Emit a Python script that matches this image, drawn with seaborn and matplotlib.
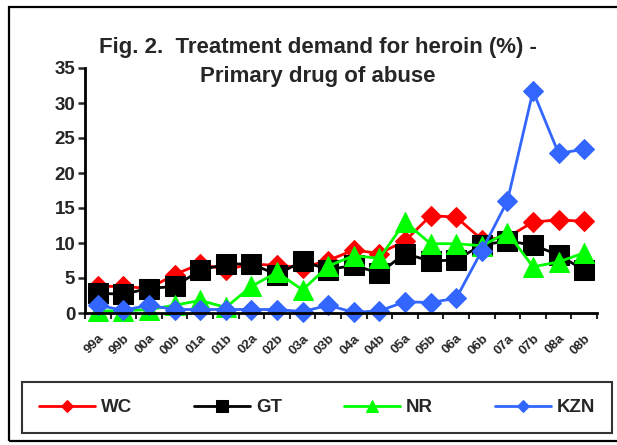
import matplotlib
matplotlib.use("Agg")
import matplotlib.pyplot as plt
import pandas as pd
import seaborn as sns
from matplotlib.patches import Rectangle
from matplotlib.ticker import FixedLocator

# ---------------------------------------------------------
#   DATA
# ---------------------------------------------------------
periods = ["99a", "99b", "00a", "00b", "01a", "01b", "02a", "02b", "03a", "03b",
           "04a", "04b", "05a", "05b", "06a", "06b", "07a", "07b", "08a", "08b"]

wc = [3.8, 3.8, 3.5, 5.5, 7.0, 6.2, 7.0, 6.8, 6.5, 7.5,
      9.0, 8.5, 10.3, 13.9, 13.7, 10.5, 10.8, 13.0, 13.3, 13.1]
gt = [2.8, 2.7, 3.5, 3.8, 6.1, 7.0, 7.0, 5.5, 7.4, 6.2,
      6.8, 5.7, 8.5, 7.4, 7.6, 9.7, 10.3, 9.7, 8.3, 6.1]
nr = [0.3, 0.3, 0.5, 1.1, 1.8, 0.8, 3.8, 5.8, 3.3, 6.7,
      8.2, 7.8, 13.0, 9.9, 9.9, 9.6, 11.5, 6.6, 7.3, 8.6]
kzn = [1.1, 0.4, 1.1, 0.5, 0.5, 0.5, 0.5, 0.5, 0.2, 1.1,
       0.1, 0.3, 1.6, 1.5, 2.1, 8.9, 16.0, 31.7, 22.8, 23.4]

series_names = ["WC", "GT", "NR", "KZN"]
colors = ["#FF0000", "#000000", "#00FF00", "#3366FF"]
markers = ["D", "s", "^", "D"]
msizes = [10.5, 15, 14.5, 10.5]

df = pd.DataFrame({"period": periods, "WC": wc, "GT": gt, "NR": nr, "KZN": kzn})
long_df = df.melt(id_vars="period", var_name="region", value_name="pct")

# ---------------------------------------------------------
#   PLOT
# ---------------------------------------------------------
sns.set_style("white")
plt.rcParams["font.family"] = ["Liberation Sans", "DejaVu Sans"]
plt.rcParams["font.weight"] = "bold"

fig = plt.figure(figsize=(6.17, 4.45), dpi=100)
ax = fig.add_axes([85 / 617, 1 - 313 / 445, 512 / 617, 245 / 445])

# one call per series so each keeps its own marker size
for name, col, mk, ms in zip(series_names, colors, markers, msizes):
    sub = long_df[long_df["region"] == name]
    sns.lineplot(data=sub, x="period", y="pct", ax=ax, color=col,
                 marker=mk, markersize=ms, markeredgecolor=col,
                 linewidth=2, label=name, sort=False, clip_on=False)

ax.set_xlim(-0.5, len(periods) - 0.5)
ax.set_ylim(0, 35)
ax.set_yticks(range(0, 36, 5))
ax.set_xlabel("")
ax.set_ylabel("")

for side in ["top", "right"]:
    ax.spines[side].set_visible(False)
for side in ["left", "bottom"]:
    ax.spines[side].set_linewidth(2)
    ax.spines[side].set_color("black")

ax.tick_params(axis="y", which="major", direction="out", length=5, width=1.8,
               labelsize=13.5, pad=2, left=True)
# tick marks sit between categories, labels at the category centres
ax.xaxis.set_minor_locator(FixedLocator([i - 0.5 for i in range(len(periods) + 1)]))
ax.tick_params(axis="x", which="minor", direction="out", length=4, width=1.5, bottom=True)
ax.tick_params(axis="x", which="major", length=0, pad=14, labelsize=9.5)
for lab in ax.get_xticklabels():
    lab.set_rotation(45)
    lab.set_ha("right")
    lab.set_rotation_mode("anchor")
    lab.set_fontweight("bold")
for lab in ax.get_yticklabels():
    lab.set_fontweight("bold")

ax.get_legend().remove()

fig.text(0.515, 1 - 48 / 445, "Fig. 2.  Treatment demand for heroin (%) -",
         ha="center", va="center", fontsize=16, fontweight="bold")
fig.text(0.515, 1 - 77 / 445, "Primary drug of abuse",
         ha="center", va="center", fontsize=16, fontweight="bold")

handles, labels = ax.get_legend_handles_labels()
leg = fig.legend(handles, labels, loc="lower left",
                 bbox_to_anchor=(22 / 617, 1 - 433 / 445, 590 / 617, 60 / 445),
                 mode="expand", ncol=4, frameon=True, fancybox=False,
                 handlelength=3.0, markerscale=0.6, borderaxespad=0,
                 prop={"size": 13.5, "weight": "bold"}, handletextpad=0.3,
                 borderpad=0.9)
leg.get_frame().set_edgecolor("black")
leg.get_frame().set_linewidth(1.5)

# outer frame around the whole figure
fig.patches.append(Rectangle((9 / 617, 4 / 445), 1.0, 1 - 11 / 445,
                             transform=fig.transFigure, fill=False,
                             edgecolor="black", linewidth=1.6))

fig.savefig("out.png", dpi=100)
